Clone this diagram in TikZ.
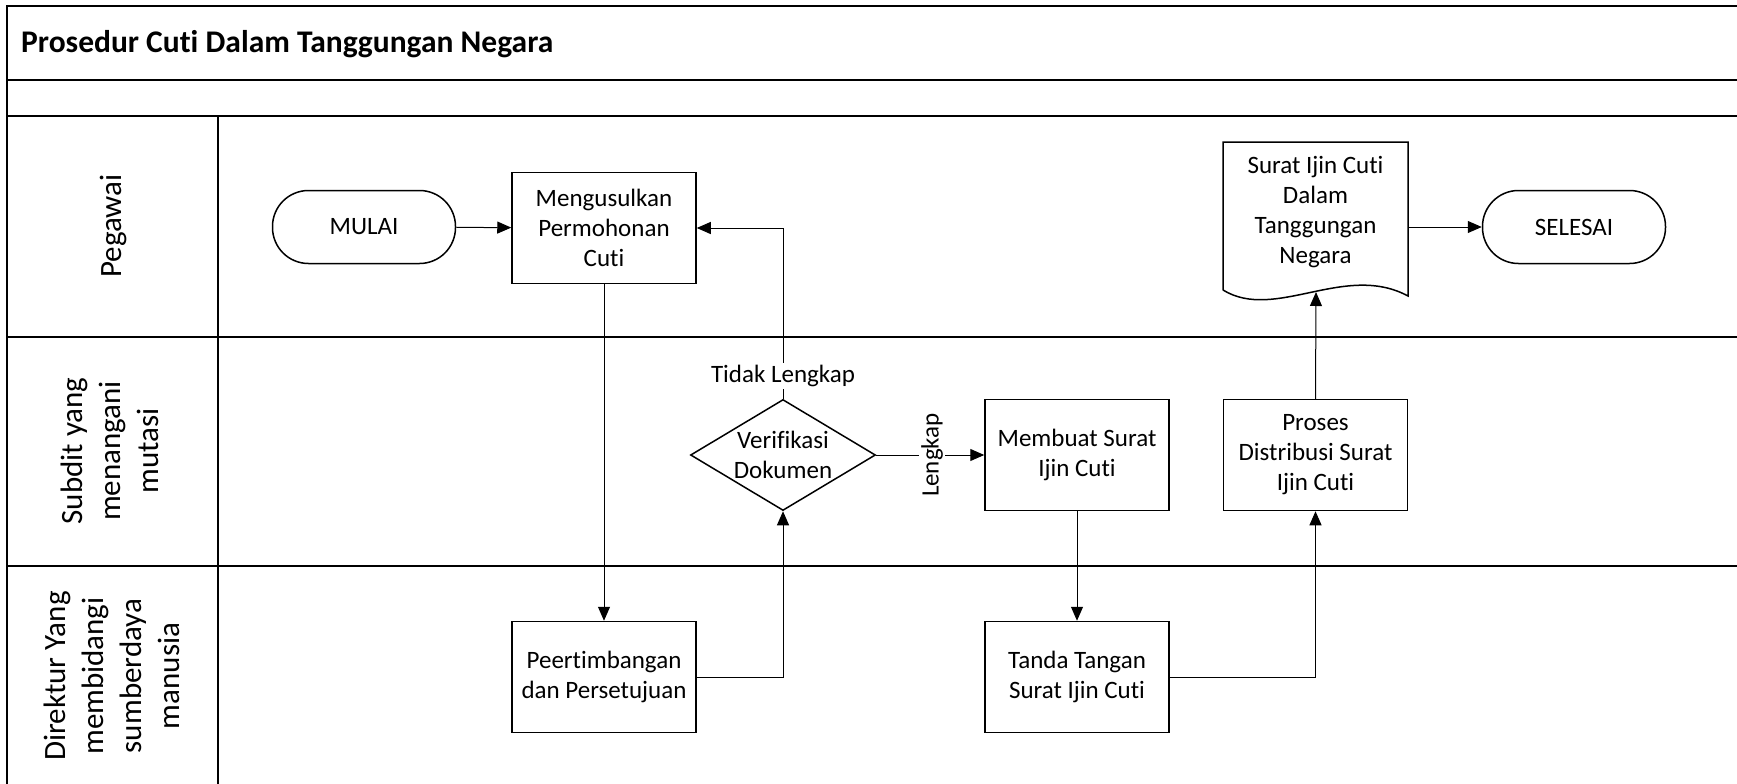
\documentclass[tikz,border=0pt]{standalone}
\usepackage{fontspec}
\setmainfont{Carlito}[Ligatures=NoCommon]
\usetikzlibrary{arrows.meta,shapes.geometric}
\begin{document}
\begin{tikzpicture}[x=1pt,y=-1pt,
  every node/.style={font=\fontsize{25}{30}\selectfont, align=center},
  frame/.style={line width=2pt},
  lane/.style={rotate=90, font=\fontsize{31}{38}\selectfont, inner sep=0pt},
  proc/.style={draw, line width=1.5pt, minimum width=184pt, minimum height=111pt, inner sep=0pt},
  term/.style={draw, line width=1.5pt, rounded corners=36pt, minimum width=183pt, minimum height=73pt, inner sep=0pt},
  dec/.style={draw, line width=1.5pt, diamond, minimum width=185pt, minimum height=111pt, inner sep=0pt},
  conn/.style={line width=1pt, -{Triangle[length=14pt,width=12pt]}},
  lab/.style={fill=white, inner sep=2pt}
]
\useasboundingbox (0,0) rectangle (1737,784);
\clip (0,0) rectangle (1737,784);
% frame
\draw[frame] (7,800) -- (7,6) -- (1750,6);
\draw[frame] (7,80) -- (1750,80);
\draw[frame] (7,116) -- (1750,116);
\draw[frame] (7,337) -- (1750,337);
\draw[frame] (7,566) -- (1750,566);
\draw[frame] (218,116) -- (218,800);
\node[anchor=west, inner sep=0pt, font=\bfseries\fontsize{31.5}{38}\selectfont] (title) at (21,44) {Prosedur Cuti Dalam Tanggungan Negara};
% lane labels
\node[lane] (l1) at (113,226) {Pegawai};
\node[lane] (l2) at (110,451) {Subdit yang\\menangani\\mutasi};
\node[lane] (l3) at (112,676) {Direktur Yang\\membidangi\\sumberdaya\\manusia};
% nodes
\node[term] (mulai) at (364,227) {MULAI};
\node[proc] (usul) at (604,228) {Mengusulkan\\Permohonan\\Cuti};
\node[proc] (peer) at (604,677) {Peertimbangan\\dan Persetujuan};
\node[dec] (verif) at (783,455) {};
\node (veriftext) at (783,455) {Verifikasi\\Dokumen};
\node[proc] (buat) at (1077,455) {Membuat Surat\\Ijin Cuti};
\node[proc] (ttd) at (1077,677) {Tanda Tangan\\Surat Ijin Cuti};
\node[proc] (dist) at (1315.5,455) {Proses\\Distribusi Surat\\Ijin Cuti};
\node[minimum width=185pt, inner sep=0pt] (doc) at (1315.5,212) {Surat Ijin Cuti\\Dalam\\Tanggungan\\Negara};
\draw[line width=1.5pt] (1223,290) -- (1223,142) -- (1408,142) -- (1408,296)
   .. controls (1345,262) and (1275,322) .. (1223,290);
\coordinate (docin) at (1316,292);
\node[term] (selesai) at (1574,227) {SELESAI};
% connectors
\draw[conn] (mulai) -- (usul);
\draw[conn] (usul) -- (peer);
\draw[conn] (peer.east) -| (verif.south);
\draw[conn] (verif.north) |- (usul.east);
\node[lab] (tl) at (783,376) {Tidak Lengkap};
\draw[conn] (verif.east) -- (buat.west);
\node[lab, rotate=90] (lk) at (932,455) {Lengkap};
\draw[conn] (buat) -- (ttd);
\draw[conn] (ttd.east) -| (dist.south);
\draw[conn] (dist.north) -- (docin);
\draw[conn] (selesai.west -| 1408,0) -- (selesai.west);
\end{tikzpicture}
\end{document}
